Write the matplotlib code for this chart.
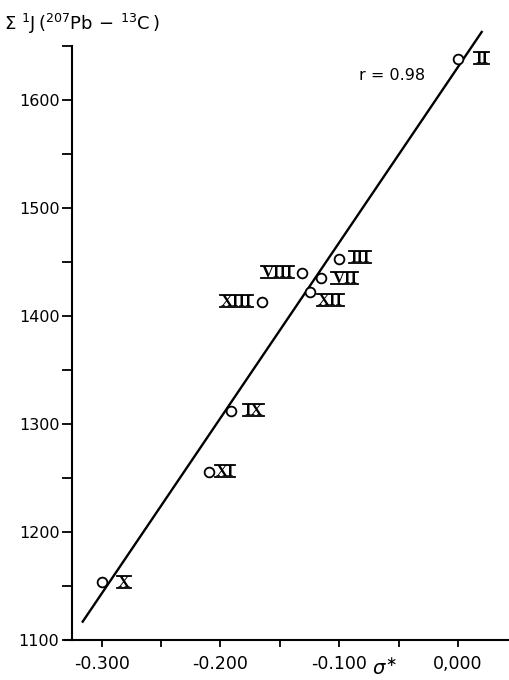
import numpy as np
import matplotlib
matplotlib.use("Agg")
import matplotlib.pyplot as plt
from matplotlib.lines import Line2D
from matplotlib.transforms import IdentityTransform

# data
labels = ["II", "III", "VIII", "VII", "XII", "XIII", "IX", "XI", "X"]
sigma = [0.000, -0.100, -0.131, -0.115, -0.125, -0.165, -0.191, -0.210, -0.300]
sum_j = [1638, 1453, 1440, 1435, 1422, 1413, 1312, 1256, 1154]
fit_x = [-0.316, 0.020]
fit_y = [1117, 1663]

# label placement (pixel offsets from the circle, alignment)
lab_off = [(17, 0, "left"), (11, 1, "left"), (-9, 0, "right"), (11, -1, "left"),
           (8, -9, "left"), (-10, 0, "right"), (13, 0, "left"), (7, 0, "left"),
           (16, -1, "left")]

plt.rcParams["font.family"] = ["DejaVu Sans"]
fig = plt.figure(figsize=(5.09, 6.80), dpi=100)
ax = fig.add_axes([72/509, 40/680, 1 - 72/509, 594/680])

ax.plot(fit_x, fit_y, color="black", lw=1.7, clip_on=False, zorder=2)
ax.plot(sigma, sum_j, "o", mfc="white", mec="black", ms=7, mew=1.3,
        clip_on=False, zorder=3)

txts = []
for lab, x, y, (dx, dy, ha) in zip(labels, sigma, sum_j, lab_off):
    t = ax.annotate(lab, (x, y), xytext=(dx, dy), textcoords="offset pixels",
                    ha=ha, va="center", fontsize=12, fontweight="bold",
                    family="Liberation Serif", annotation_clip=False)
    txts.append(t)

fig.text(392/509, 1 - 75/680, "r = 0.98", fontsize=11.5, ha="center",
         va="center")

ax.set_xlim(-0.325, 0.043)
ax.set_ylim(1100, 1650)
ax.set_xticks([-0.3, -0.2, -0.1, 0.0])
ax.set_xticklabels(["-0.300", "-0.200", "-0.100", "0,000"])
ax.set_xticks([-0.25, -0.15, -0.05], minor=True)
ax.set_yticks([1100, 1200, 1300, 1400, 1500, 1600])
ax.set_yticks([1150, 1250, 1350, 1450, 1550, 1650], minor=True)
ax.tick_params(axis="y", which="both", direction="out", length=7, width=1.3,
               labelsize=11.5, pad=2)
ax.tick_params(axis="x", which="both", direction="out", length=5, width=1.3,
               labelsize=12.5, pad=6)
for s in ["top", "right"]:
    ax.spines[s].set_visible(False)
for s in ["left", "bottom"]:
    ax.spines[s].set_linewidth(1.5)
# x axis line runs a little past the y axis, as in the original
ax.plot([-0.016, 0], [0, 0], transform=ax.transAxes, color="black", lw=1.5,
        clip_on=False)

fig.text(4/509, 1 - 24/680,
         r"$\Sigma\ ^{1}$J$\,(^{207}$Pb$\,-\,^{13}$C$\,)$",
         fontsize=13, ha="left", va="center")
fig.text(372/509, 1 - 668/680, r"$\sigma^{\ast}$", fontsize=14, ha="left",
         va="center")

# typewriter-style bars over and under the roman numerals
fig.canvas.draw()
r = fig.canvas.get_renderer()
for t in txts:
    bb = t.get_window_extent(r)
    yc = (bb.y0 + bb.y1) / 2 + 1
    for yy in (yc - 6, yc + 6):
        fig.add_artist(Line2D([bb.x0 - 1, bb.x1 + 1], [yy, yy], color="black",
                              lw=1.3, transform=IdentityTransform()))

fig.savefig("out.png", dpi=100)
